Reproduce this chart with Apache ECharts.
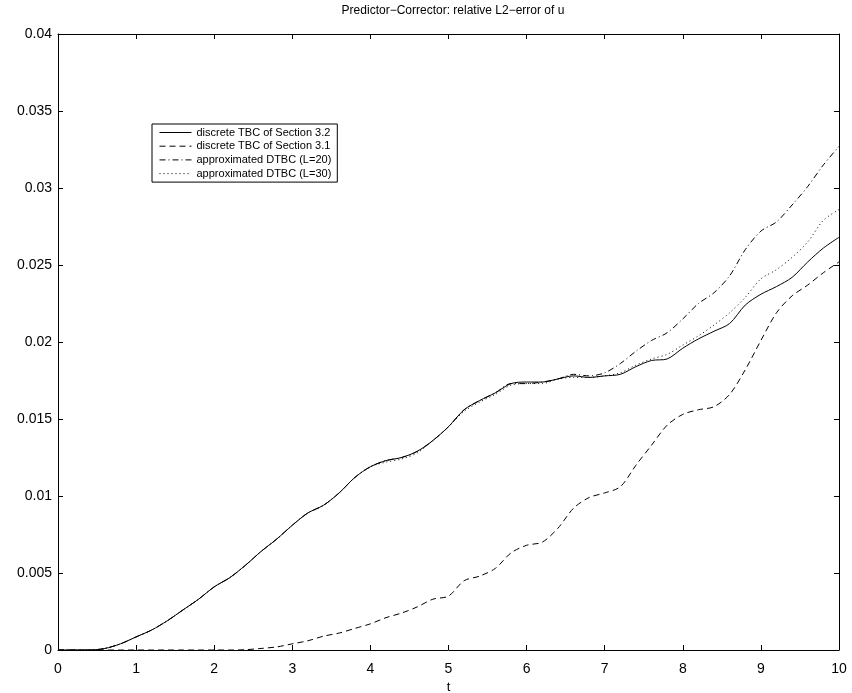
<!DOCTYPE html>
<html>
<head>
<meta charset="utf-8">
<script src="https://cdn.jsdelivr.net/npm/echarts@6/dist/echarts.min.js"></script>
<style>html,body{margin:0;padding:0;background:#fff;}#c{width:852px;height:693px;}</style>
</head>
<body>
<div id="c"></div>
<script>
const titleText = "Predictor\u2212Corrector: relative L2\u2212error of u";
const seriesNames = ["discrete TBC of Section 3.2", "discrete TBC of Section 3.1", "approximated DTBC (L=20)", "approximated DTBC (L=30)"];
const tValues = [0,0.2,0.4,0.6,0.8,1.0,1.2,1.4,1.6,1.8,2.0,2.2,2.4,2.6,2.8,3.0,3.2,3.4,3.6,3.8,4.0,4.2,4.4,4.6,4.8,5.0,5.2,5.4,5.6,5.8,6.0,6.2,6.4,6.6,6.8,7.0,7.2,7.4,7.6,7.8,8.0,8.2,8.4,8.6,8.8,9.0,9.2,9.4,9.6,9.8,10.0];
const tbc32 = [0,0,0,0.0001,0.0004,0.00085,0.0013,0.0019,0.0026,0.0033,0.0041,0.0047,0.0055,0.0064,0.0072,0.0081,0.0089,0.0094,0.0102,0.0112,0.0119,0.0123,0.0125,0.0129,0.0136,0.0145,0.0156,0.0162,0.0167,0.0173,0.0174,0.0174,0.0176,0.0178,0.0177,0.0178,0.0179,0.0184,0.0188,0.0189,0.0196,0.0202,0.0207,0.0212,0.0224,0.0231,0.0236,0.0242,0.0252,0.0261,0.0268];
const tbc31 = [0,0,0,0,0,0,0,0,0,0,0,0,0.00002,0.0001,0.0002,0.0004,0.0006,0.0009,0.0011,0.0014,0.0017,0.0021,0.0024,0.0028,0.0033,0.0035,0.0045,0.0048,0.0053,0.0063,0.0068,0.0070,0.0079,0.0092,0.0099,0.0102,0.0106,0.0120,0.0133,0.0146,0.0153,0.0156,0.0158,0.0166,0.0182,0.0201,0.0219,0.0230,0.0237,0.0245,0.0252];
const dtbc20 = [0,0,0,0.0001,0.0004,0.00085,0.0013,0.0019,0.0026,0.0033,0.0041,0.0047,0.0055,0.0064,0.0072,0.0081,0.0089,0.0094,0.0102,0.0112,0.0119,0.0123,0.0125,0.0129,0.0136,0.0145,0.0156,0.0162,0.0167,0.0173,0.0173,0.0174,0.0176,0.0179,0.0178,0.0180,0.0186,0.0194,0.0201,0.0206,0.0215,0.0225,0.0232,0.0243,0.0260,0.0272,0.0278,0.0289,0.0301,0.0315,0.0327];
const dtbc30 = [0,0,0,0.0001,0.0004,0.00085,0.0013,0.0019,0.0026,0.0033,0.0041,0.0047,0.0055,0.0064,0.0072,0.0081,0.0089,0.0094,0.0102,0.0112,0.0119,0.0122,0.0124,0.0128,0.0136,0.0145,0.0155,0.0161,0.0166,0.0172,0.0173,0.0173,0.0176,0.0177,0.0177,0.0178,0.0180,0.0185,0.0189,0.0192,0.0198,0.0204,0.0211,0.0219,0.0229,0.0241,0.0247,0.0255,0.0265,0.0279,0.0286];

function pairs(vals){ return tValues.map((t,i)=>[t, vals[i]]); }
const styles = [
  {type:'solid'},
  {type:[6,4]},
  {type:[6,3,1,3]},
  {type:[1,3]}
];
const allVals = [tbc32, tbc31, dtbc20, dtbc30];
const font = 'Liberation Sans, Arial, Helvetica, sans-serif';
const chart = echarts.init(document.getElementById('c'), null, {renderer:'canvas'});
function axisCommon(){
  return {
    axisLine:{show:true, onZero:false, lineStyle:{color:'#000', width:1}},
    axisTick:{show:true, inside:true, length:5, lineStyle:{color:'#000'}},
    splitLine:{show:false}
  };
}
chart.setOption({
  animation:false,
  backgroundColor:'#fff',
  title:{text:titleText, left:448, textAlign:'center', top:0, textStyle:{fontFamily:font, fontSize:12, fontWeight:'normal', color:'#000'}},
  grid:{left:58, right:13, top:34, bottom:43, containLabel:false, outerBoundsMode:'none'},
  legend:{
    orient:'vertical', left:152, top:124, itemWidth:32, itemHeight:10, itemGap:2.7,
    backgroundColor:'#fff', borderColor:'#000', borderWidth:1, padding:[3,6,3,7],
    textStyle:{fontFamily:font, fontSize:11, color:'#000'},
    itemStyle:{color:'rgba(0,0,0,0)', borderWidth:0, opacity:0},
    lineStyle:{width:1},
    data: seriesNames
  },
  xAxis:[
    Object.assign({type:'value', min:0, max:10, interval:1, position:'bottom',
      name:'t', nameLocation:'middle', nameGap:27, nameTextStyle:{fontFamily:font, fontSize:13, color:'#000'},
      axisLabel:{fontFamily:font, fontSize:14, color:'#000', margin:12}}, axisCommon()),
    Object.assign({type:'value', min:0, max:10, interval:1, position:'top', axisLabel:{show:false}}, axisCommon())
  ],
  yAxis:[
    Object.assign({type:'value', min:0, max:0.04, interval:0.005, position:'left',
      axisLabel:{fontFamily:font, fontSize:14, color:'#000', margin:6}}, axisCommon()),
    Object.assign({type:'value', min:0, max:0.04, interval:0.005, position:'right', axisLabel:{show:false}}, axisCommon())
  ],
  series: seriesNames.map((n,i)=>({
    name:n, type:'line', data:pairs(allVals[i]), symbol:'none', smooth:0.3,
    lineStyle:Object.assign({color:'#000', width:1}, styles[i]),
    itemStyle:{color:'#000'}
  }))
});
</script>
</body>
</html>
